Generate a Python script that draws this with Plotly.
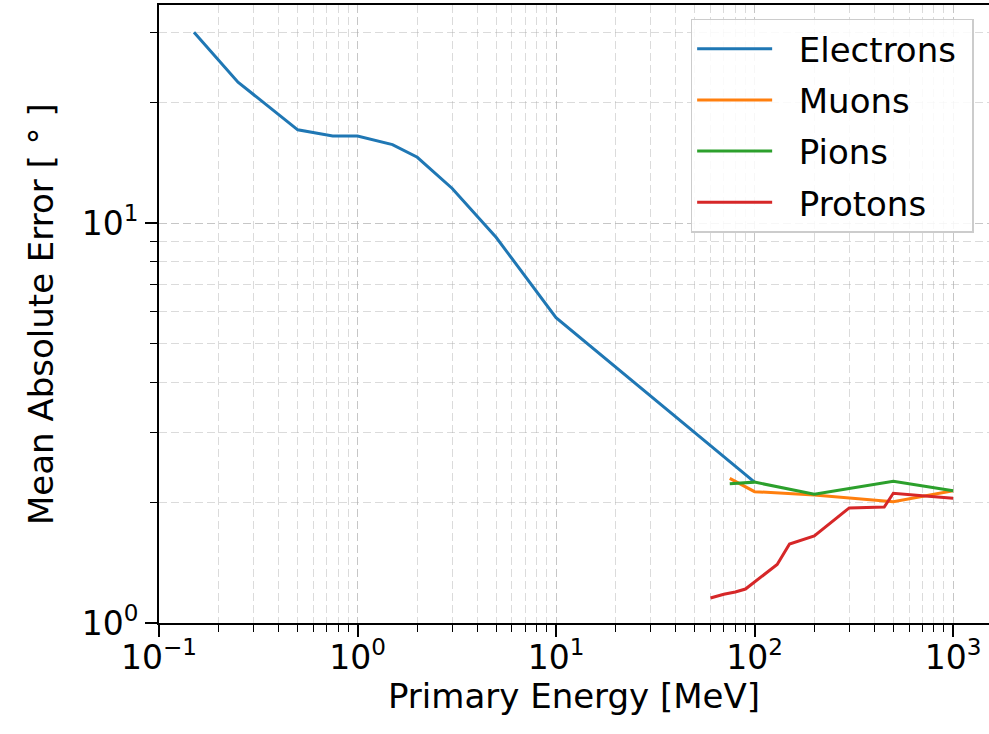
import plotly.graph_objects as go

# Data
electron_energy = [0.15, 0.25, 0.5, 0.75, 1.0, 1.5, 2.0, 3.0, 5.0, 10.0, 100.0]
electron_mae = [30.0, 22.5, 17.1, 16.5, 16.5, 15.7, 14.6, 12.2, 9.2, 5.8, 2.25]

muon_energy = [75, 100, 200, 500, 1000]
muon_mae = [2.30, 2.13, 2.09, 2.01, 2.14]

pion_energy = [75, 100, 200, 500, 1000]
pion_mae = [2.23, 2.25, 2.10, 2.26, 2.14]

proton_energy = [60, 70, 80, 90, 130, 150, 200, 300, 450, 500, 700, 1000]
proton_mae = [1.155, 1.18, 1.195, 1.216, 1.40, 1.575, 1.65, 1.94, 1.95, 2.11, 2.08, 2.05]

series_names = ["Electrons", "Muons", "Pions", "Protons"]
series_colors = ["#1f77b4", "#ff7f0e", "#2ca02c", "#d62728"]

x_tickvals = [0.1, 1, 10, 100, 1000]
x_ticktext = ["10<sup>−1</sup>", "10<sup>0</sup>", "10<sup>1</sup>", "10<sup>2</sup>", "10<sup>3</sup>"]
y_tickvals = [1, 10]
y_ticktext = ["10<sup>0</sup>", "10<sup>1</sup>"]

x_title = "Primary Energy [MeV]"
y_title = "Mean Absolute Error [ ° ]"

FONT = "DejaVu Sans"
NB = "\u00a0"

fig = go.Figure()
for i, (name, xs, ys, col) in enumerate(zip(
    series_names,
    [electron_energy, muon_energy, pion_energy, proton_energy],
    [electron_mae, muon_mae, pion_mae, proton_mae],
    series_colors,
)):
    fig.add_trace(go.Scatter(x=xs, y=ys, mode="lines", name=NB * 2 + name + NB,
                             legendgroup=f"g{i}",
                             line=dict(color=col, width=3)))

grid_col = "rgba(170,170,170,0.42)"
minor_cfg = dict(dtick="D1", ticks="outside", ticklen=7, tickwidth=1.3,
                 tickcolor="black", showgrid=True, gridcolor=grid_col,
                 griddash="8px,4px", gridwidth=1)
fig.update_layout(
    width=989, height=734,
    margin=dict(l=159, r=0, t=5, b=111),
    paper_bgcolor="white", plot_bgcolor="white",
    font=dict(family=FONT, color="black"),
    showlegend=True,
    legend=dict(
        x=0.9815, y=0.978, xanchor="right", yanchor="top",
        bgcolor="rgba(255,255,255,0.85)",
        bordercolor="#cccccc", borderwidth=1.5,
        font=dict(family=FONT, size=34, color="black"),
        itemwidth=75, traceorder="grouped", tracegroupgap=4,
    ),
    xaxis=dict(
        type="log", range=[-1.0, 3.181], automargin=False,
        title=dict(text=x_title, font=dict(size=34), standoff=0),
        tickvals=x_tickvals, ticktext=x_ticktext,
        tickfont=dict(size=33), ticklabelstandoff=-8,
        ticks="outside", ticklen=12, tickwidth=1.8, tickcolor="black",
        showline=True, linecolor="black", linewidth=1.8, mirror=True,
        showgrid=True, gridcolor=grid_col, griddash="8px,4px", gridwidth=1,
        zeroline=False,
        minor=minor_cfg,
    ),
    yaxis=dict(
        type="log", range=[0.0, 1.545], automargin=False,
        tickvals=y_tickvals, ticktext=y_ticktext,
        tickfont=dict(size=33),
        ticks="outside", ticklen=12, tickwidth=1.8, tickcolor="black",
        showline=True, linecolor="black", linewidth=1.8, mirror=False,
        showgrid=True, gridcolor=grid_col, griddash="8px,4px", gridwidth=1,
        zeroline=False,
        minor=minor_cfg,
    ),
    annotations=[dict(
        text=y_title, textangle=-90, showarrow=False,
        xref="paper", yref="paper", x=-(159 - 41) / 830, y=0.5,
        xanchor="center", yanchor="middle",
        font=dict(family=FONT, size=34, color="black"),
    )],
)

fig.write_html("out.html", config={"displayModeBar": False},
               post_script="document.body.style.margin='0px';")
